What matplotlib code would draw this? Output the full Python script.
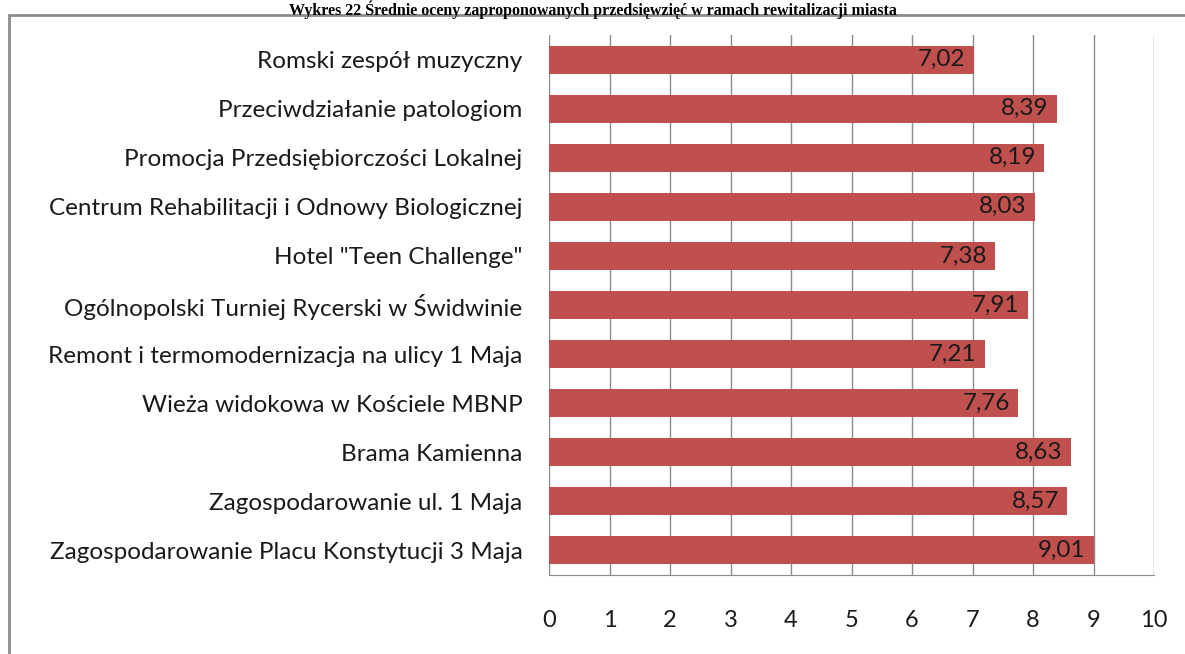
import matplotlib
matplotlib.use("Agg")
import matplotlib.pyplot as plt
from matplotlib.patches import Rectangle

categories = [
    "Romski zespół muzyczny",
    "Przeciwdziałanie patologiom",
    "Promocja Przedsiębiorczości Lokalnej",
    "Centrum Rehabilitacji i Odnowy Biologicznej",
    'Hotel "Teen Challenge"',
    "Ogólnopolski Turniej Rycerski w Świdwinie",
    "Remont i termomodernizacja na ulicy 1 Maja",
    "Wieża widokowa w Kościele MBNP",
    "Brama Kamienna",
    "Zagospodarowanie ul. 1 Maja",
    "Zagospodarowanie Placu Konstytucji 3 Maja",
]
scores = [7.02, 8.39, 8.19, 8.03, 7.38, 7.91, 7.21, 7.76, 8.63, 8.57, 9.01]
x_ticks = list(range(0, 11))
title = "Wykres 22 Średnie oceny zaproponowanych przedsięwzięć w ramach rewitalizacji miasta"

plt.rcParams["font.family"] = ["Lato", "DejaVu Sans"]

fig = plt.figure(figsize=(11.85, 6.54), dpi=100)
ax = fig.add_axes([549 / 1185, 79 / 654, 605 / 1185, 540 / 654])

# chart frame, cut off at right and bottom like the source scan
fig.patches.append(Rectangle((9 / 1185, -0.05), 1.1, (654 - 15) / 654 + 0.05,
                             transform=fig.transFigure, fill=False,
                             edgecolor="#8c8c8c", linewidth=2))
fig.text(0.5, 0.999, title, ha="center", va="top", fontsize=11.5,
         fontweight="bold", family=["Liberation Serif", "DejaVu Serif"])

ypos = list(range(len(categories)))[::-1]
ax.barh(ypos, scores, height=0.57, color="#c0504d", zorder=3)
for y, v in zip(ypos, scores):
    ax.text(v - 0.14, y, f"{v:.2f}".replace(".", ","), ha="right",
            va="center", fontsize=17.5, color="#1a1a1a", zorder=4)

ax.set_xlim(0, 10)
ax.set_ylim(-0.5, len(categories) - 0.5)
ax.set_xticks(x_ticks)
ax.set_xticklabels([str(t) for t in x_ticks], fontsize=17)
ax.set_yticks(ypos)
ax.set_yticklabels(categories, fontsize=17.5)
ax.tick_params(axis="x", length=0, pad=25, colors="#1a1a1a")
ax.tick_params(axis="y", length=0, pad=19, colors="#1a1a1a")
ax.grid(axis="x", color="#8c8c8c", linewidth=1, zorder=0)
for s in ["top", "right", "left"]:
    ax.spines[s].set_visible(False)
ax.spines["bottom"].set_color("#8c8c8c")

fig.savefig("out.png", dpi=100)
